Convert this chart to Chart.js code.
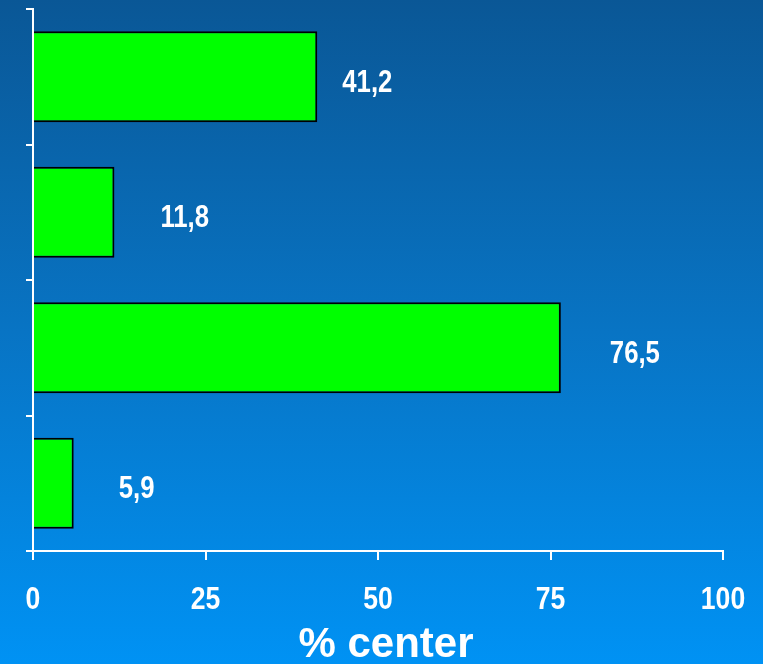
<!DOCTYPE html>
<html>
<head>
<meta charset="utf-8">
<script src="https://cdn.jsdelivr.net/npm/chart.js@4/dist/chart.umd.min.js"></script>
<style>
  html, body { margin: 0; padding: 0; }
  body {
    width: 763px; height: 664px; overflow: hidden;
    background: linear-gradient(to bottom, #0a5796 0%, #0874c4 50%, #0092f4 100%);
  }
  #wrap { width: 763px; height: 664px; position: relative; }
</style>
</head>
<body>
<div id="wrap"><canvas id="c" width="763" height="664"></canvas></div>
<script>
const categories = ['Item 1', 'Item 2', 'Item 3', 'Item 4'];
const values = [41.2, 11.8, 76.5, 5.9];
const valueLabels = ['41,2', '11,8', '76,5', '5,9'];
const xTicks = [0, 25, 50, 75, 100];
const axisTitle = '% center';

const labelGap = [25, 46, 49, 45];
const FONT = '"Liberation Sans", Arial, sans-serif';
const NARROW_SCALE = 0.83;

function drawNarrow(ctx, text, x, y, align) {
  ctx.save();
  ctx.translate(x, y);
  ctx.scale(NARROW_SCALE, 1);
  ctx.textAlign = align;
  ctx.fillText(text, 0, 0);
  ctx.restore();
}

const textPlugin = {
  id: 'textPlugin',
  afterDraw(chart) {
    const ctx = chart.ctx;
    const meta = chart.getDatasetMeta(0);
    const xs = chart.scales.x;
    const area = chart.chartArea;
    ctx.save();
    ctx.fillStyle = '#ffffff';
    ctx.textBaseline = 'alphabetic';
    // value labels
    ctx.font = 'bold 31px ' + FONT;
    meta.data.forEach((bar, i) => {
      drawNarrow(ctx, valueLabels[i], bar.x + labelGap[i], bar.y + 15, 'left');
    });
    // x tick labels
    ctx.font = 'bold 32px ' + FONT;
    xTicks.forEach(v => {
      drawNarrow(ctx, String(v), xs.getPixelForValue(v), area.bottom + 58, 'center');
    });
    // axis title
    ctx.font = 'bold 42px ' + FONT;
    ctx.textAlign = 'center';
    ctx.fillText(axisTitle, (area.left + area.right) / 2 + 8, area.bottom + 106);
    ctx.restore();
  }
};

new Chart(document.getElementById('c'), {
  type: 'bar',
  data: {
    labels: categories,
    datasets: [{
      data: values,
      backgroundColor: '#00ff00',
      borderColor: '#000000',
      borderWidth: 2,
      borderSkipped: 'start',
      categoryPercentage: 1,
      barPercentage: 0.67
    }]
  },
  options: {
    indexAxis: 'y',
    responsive: false,
    animation: false,
    devicePixelRatio: 1,
    layout: { padding: { top: 9, right: 40, left: 0, bottom: 0 } },
    plugins: {
      legend: { display: false },
      tooltip: { enabled: false }
    },
    scales: {
      y: {
        type: 'category',
        offset: true,
        afterFit(s) { s.width = 33; },
        ticks: { display: false },
        grid: {
          offset: true,
          drawOnChartArea: false,
          drawTicks: true,
          tickLength: 7,
          color: '#ffffff',
          lineWidth: 2
        },
        border: { display: true, color: '#ffffff', width: 2 }
      },
      x: {
        min: 0,
        max: 100,
        afterFit(s) { s.height = 113; },
        afterBuildTicks(s) { s.ticks = xTicks.map(v => ({ value: v })); },
        ticks: { display: false },
        grid: {
          drawOnChartArea: false,
          drawTicks: true,
          tickLength: 9,
          color: '#ffffff',
          lineWidth: 2
        },
        border: { display: true, color: '#ffffff', width: 2 },
        title: { display: false, text: axisTitle }
      }
    }
  },
  plugins: [textPlugin]
});
</script>
</body>
</html>
